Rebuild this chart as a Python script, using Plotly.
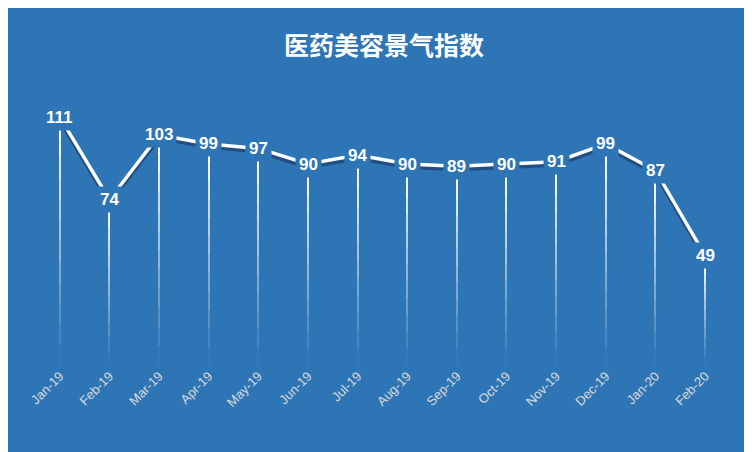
import plotly.graph_objects as go

months = ["Jan-19", "Feb-19", "Mar-19", "Apr-19", "May-19", "Jun-19", "Jul-19",
          "Aug-19", "Sep-19", "Oct-19", "Nov-19", "Dec-19", "Jan-20", "Feb-20"]
index_values = [111, 74, 103, 99, 97, 90, 94, 90, 89, 90, 91, 99, 87, 49]

bg = "#2E75B6"
fig = go.Figure()

# fading drop lines, built from stacked thin bars
levels = 12
for k in range(levels):
    fig.add_trace(go.Bar(
        x=months, y=[v / levels for v in index_values],
        base=[v * k / levels for v in index_values],
        width=0.025, marker=dict(color="white", line=dict(width=0)),
        opacity=0.03 + 0.97 * k / (levels - 1),
        hoverinfo="skip", showlegend=False))

# shadow line
fig.add_trace(go.Scatter(
    x=months, y=[v - 1.4 for v in index_values], mode="lines",
    line=dict(color="rgba(20,40,80,0.5)", width=4),
    hoverinfo="skip", showlegend=False))

fig.add_trace(go.Scatter(
    x=months, y=index_values, mode="lines",
    line=dict(color="white", width=3.5),
    showlegend=False))

# value labels sit on the points, masking the line
for m, v in zip(months, index_values):
    fig.add_annotation(x=m, y=v, text=f"<b>{v}</b>", showarrow=False,
                       bgcolor=bg, borderpad=3,
                       font=dict(color="white", size=17, family="Liberation Sans"))

fig.update_layout(
    width=752, height=452,
    paper_bgcolor=bg, plot_bgcolor=bg,
    margin=dict(l=27, r=30, t=89, b=95),
    barmode="overlay", bargap=0,
    title=dict(text="<b>医药美容景气指数</b>", x=0.5, y=0.915, xanchor="center",
               yanchor="middle",
               font=dict(size=25, color="white", family="Noto Sans CJK SC")),
    xaxis=dict(range=[-0.5, 13.5], showgrid=False, showline=False, zeroline=False,
               tickangle=-45, ticks="",
               tickfont=dict(color="#D9D9D9", size=13, family="Liberation Sans")),
    yaxis=dict(range=[0, 120], visible=False),
)

fig.write_html("out.html")
